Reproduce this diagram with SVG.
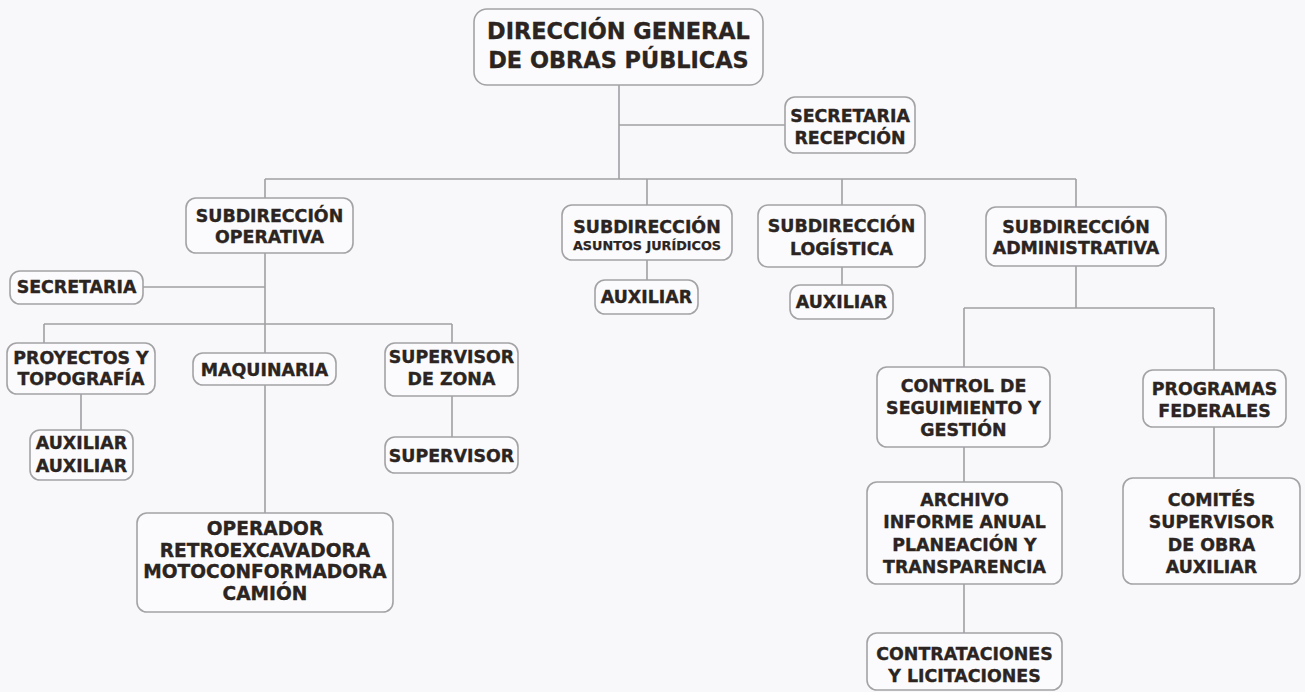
<svg xmlns="http://www.w3.org/2000/svg" width="1305" height="692" viewBox="0 0 1305 692">
<style>
.bg{fill:#f8f8fb}
.box{fill:#fbfbfd;stroke:#a3a3a6;stroke-width:1.6}
.ln{stroke:#a0a0a3;stroke-width:1.6;fill:none}
text{font-family:"DejaVu Sans","Liberation Sans",sans-serif;font-weight:bold;fill:#2b2421;stroke:#2b2421;stroke-width:0.35;text-anchor:middle;font-size:17.4px}
.big{font-size:22.4px}
.sm{font-size:12.8px;stroke-width:0.25}
.op{font-size:18.6px}
</style>
<rect class="bg" x="0" y="0" width="1305" height="692"/>
<g id="connectors">
<path class="ln" d="M619 85V179M619 125H785M265 179H1076M265 179V198M647 179V205M842 179V205M1076 179V207"/>
<path class="ln" d="M265 253V513M143 287H265M44 324H452M44 324V343M452 324V343M81 394V430M452 396V437"/>
<path class="ln" d="M647 260V280M842 267V285M1076 266V308M964 308H1214M964 308V367M1214 308V370M964 447V482M964 584V633M1214 427V478"/>
</g>
<g id="n-direccion"><rect class="box" x="474" y="9" width="289" height="76" rx="13"/><text class="big" x="618.5" y="39">DIRECCIÓN GENERAL</text><text class="big" x="618.5" y="68">DE OBRAS PÚBLICAS</text></g>
<g id="n-secrec"><rect class="box" x="785" y="97" width="130" height="56" rx="10"/><text x="850" y="122">SECRETARIA</text><text x="850" y="144">RECEPCIÓN</text></g>
<g id="n-operativa"><rect class="box" x="186" y="198" width="167" height="55" rx="10"/><text x="269.5" y="222">SUBDIRECCIÓN</text><text x="269.5" y="243">OPERATIVA</text></g>
<g id="n-secretaria"><rect class="box" x="10" y="271" width="133" height="33" rx="10"/><text x="76.5" y="293">SECRETARIA</text></g>
<g id="n-proyectos"><rect class="box" x="7" y="343" width="148" height="51" rx="10"/><text x="81" y="364">PROYECTOS Y</text><text x="81" y="385">TOPOGRAFÍA</text></g>
<g id="n-aux-proy"><rect class="box" x="30" y="430" width="103" height="50" rx="10"/><text x="81.5" y="449">AUXILIAR</text><text x="81.5" y="472">AUXILIAR</text></g>
<g id="n-maquinaria"><rect class="box" x="193" y="353" width="143" height="32" rx="10"/><text x="264.5" y="376">MAQUINARIA</text></g>
<g id="n-supzona"><rect class="box" x="385" y="343" width="133" height="53" rx="10"/><text x="451.5" y="363">SUPERVISOR</text><text x="451.5" y="385">DE ZONA</text></g>
<g id="n-supervisor"><rect class="box" x="385" y="437" width="133" height="36" rx="10"/><text x="451.5" y="462">SUPERVISOR</text></g>
<g id="n-operador"><rect class="box" x="137" y="513" width="256" height="99" rx="10"/><text class="op" x="265" y="535">OPERADOR</text><text class="op" x="265" y="557">RETROEXCAVADORA</text><text class="op" x="265" y="578">MOTOCONFORMADORA</text><text class="op" x="265" y="600">CAMIÓN</text></g>
<g id="n-juridicos"><rect class="box" x="562" y="205" width="170" height="55" rx="10"/><text x="647" y="233">SUBDIRECCIÓN</text><text class="sm" x="647" y="250">ASUNTOS JURÍDICOS</text></g>
<g id="n-aux-jur"><rect class="box" x="595" y="280" width="103" height="34" rx="10"/><text x="646.5" y="303">AUXILIAR</text></g>
<g id="n-logistica"><rect class="box" x="758" y="205" width="167" height="62" rx="10"/><text x="841.5" y="232">SUBDIRECCIÓN</text><text x="841.5" y="255">LOGÍSTICA</text></g>
<g id="n-aux-log"><rect class="box" x="790" y="285" width="103" height="34" rx="10"/><text x="841.5" y="308">AUXILIAR</text></g>
<g id="n-admin"><rect class="box" x="986" y="207" width="180" height="59" rx="10"/><text x="1076" y="233">SUBDIRECCIÓN</text><text x="1076" y="254">ADMINISTRATIVA</text></g>
<g id="n-control"><rect class="box" x="877" y="367" width="173" height="80" rx="10"/><text x="963.5" y="392">CONTROL DE</text><text x="963.5" y="414">SEGUIMIENTO Y</text><text x="963.5" y="436">GESTIÓN</text></g>
<g id="n-archivo"><rect class="box" x="867" y="482" width="195" height="102" rx="10"/><text x="964.5" y="506">ARCHIVO</text><text x="964.5" y="528">INFORME ANUAL</text><text x="964.5" y="551">PLANEACIÓN Y</text><text x="964.5" y="573">TRANSPARENCIA</text></g>
<g id="n-contrataciones"><rect class="box" x="867" y="633" width="195" height="57" rx="10"/><text x="964.5" y="660">CONTRATACIONES</text><text x="964.5" y="682">Y LICITACIONES</text></g>
<g id="n-programas"><rect class="box" x="1143" y="370" width="143" height="57" rx="10"/><text x="1214.5" y="395">PROGRAMAS</text><text x="1214.5" y="417">FEDERALES</text></g>
<g id="n-comites"><rect class="box" x="1123" y="478" width="177" height="106" rx="10"/><text x="1211.5" y="506">COMITÉS</text><text x="1211.5" y="528">SUPERVISOR</text><text x="1211.5" y="551">DE OBRA</text><text x="1211.5" y="573">AUXILIAR</text></g>
</svg>
